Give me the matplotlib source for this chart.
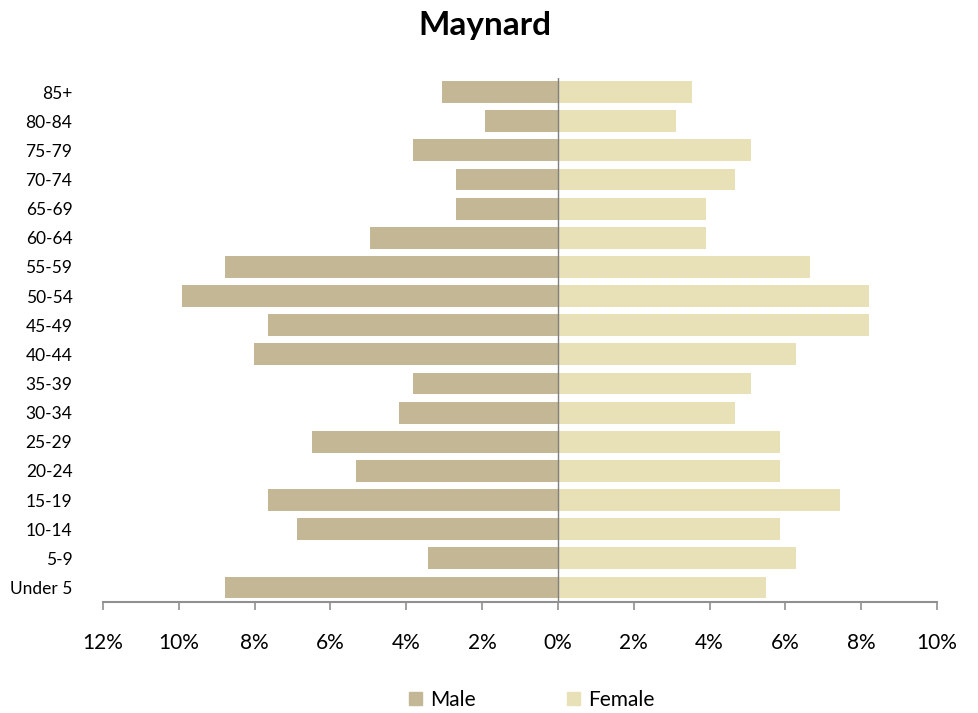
import matplotlib
matplotlib.use("Agg")
import matplotlib.pyplot as plt
from matplotlib.ticker import FuncFormatter, MultipleLocator
from matplotlib.patches import Patch

ages = ["Under 5", "5-9", "10-14", "15-19", "20-24", "25-29", "30-34", "35-39",
        "40-44", "45-49", "50-54", "55-59", "60-64", "65-69", "70-74", "75-79",
        "80-84", "85+"]
male = [8.79, 3.43, 6.89, 7.65, 5.33, 6.49, 4.20, 3.83,
        8.02, 7.65, 9.92, 8.79, 4.96, 2.69, 2.69, 3.83, 1.93, 3.06]
female = [5.49, 6.28, 5.86, 7.44, 5.86, 5.86, 4.67, 5.09,
          6.28, 8.21, 8.21, 6.65, 3.90, 3.90, 4.67, 5.09, 3.11, 3.54]
title = "Maynard"

male_color = "#C4B796"
female_color = "#E8E0B6"

plt.rcParams['font.family'] = ['Lato', 'DejaVu Sans']

fig = plt.figure(figsize=(9.79, 7.13), dpi=100)
ax = fig.add_axes([103/979, 1 - 602/713, (937-103)/979, (602-77.5)/713])

y = list(range(len(ages)))
ax.barh(y, [-v for v in male], height=0.75, color=male_color, label="Male")
ax.barh(y, female, height=0.75, color=female_color, label="Female")

ax.set_xlim(-12, 10)
ax.set_ylim(-0.5, len(ages) - 0.5)
ax.xaxis.set_major_locator(MultipleLocator(2))
ax.xaxis.set_major_formatter(FuncFormatter(lambda v, p: f"{abs(v):.0f}%"))
ax.set_yticks(y)
ax.set_yticklabels(ages)

ax.axvline(0, color="#808080", lw=1.0)
for s in ["top", "right", "left"]:
    ax.spines[s].set_visible(False)
ax.spines["bottom"].set_color("#909090")
ax.spines["bottom"].set_linewidth(1.5)
ax.tick_params(axis="x", colors="#909090", length=6, width=1.2, direction="out",
               labelsize=15, labelcolor="black", pad=16)
ax.tick_params(axis="y", length=0, labelsize=12.5, labelcolor="black", pad=22)

fig.text(0.495, 1 - 25/713, title, ha="center", va="center",
         fontsize=24, fontweight="bold")

handles = [Patch(color=male_color, label="Male"), Patch(color=female_color, label="Female")]
fig.legend(handles=handles, loc="center", bbox_to_anchor=(532/979, 1 - 700/713),
           ncol=2, frameon=False, fontsize=15, handlelength=0.6, handleheight=0.6,
           columnspacing=4.4, handletextpad=0.4, borderpad=0, borderaxespad=0)

fig.savefig("out.png", dpi=100)
